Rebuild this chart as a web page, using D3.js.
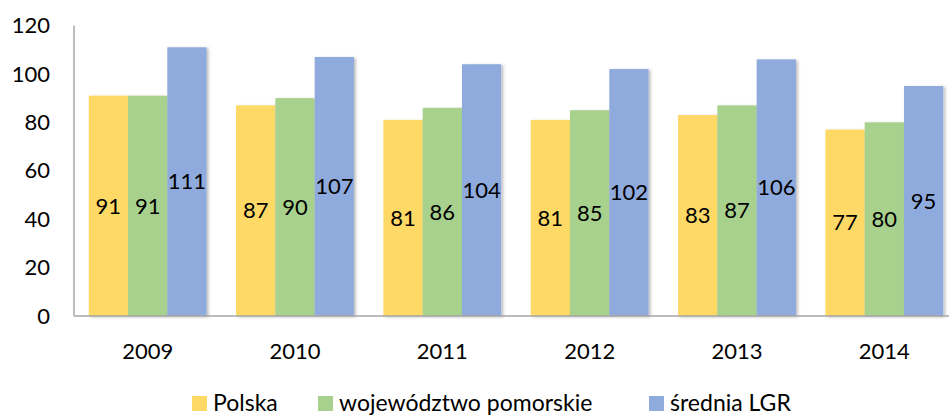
<!DOCTYPE html>
<html>
<head>
<meta charset="utf-8">
<script src="https://cdn.jsdelivr.net/npm/d3@7"></script>
<style>
  body { margin: 0; background: #fff; }
  svg { display: block; font-family: Lato, "Noto Sans", sans-serif; }
</style>
</head>
<body>
<svg id="chart" width="949" height="417"></svg>
<script>
// chart data
const years = ['2009', '2010', '2011', '2012', '2013', '2014'];
const seriesNames = ['Polska', 'województwo pomorskie', 'średnia LGR'];
const polska = [91, 87, 81, 81, 83, 77];
const pomorskie = [91, 90, 86, 85, 87, 80];
const sredniaLGR = [111, 107, 104, 102, 106, 95];
const yTicks = [0, 20, 40, 60, 80, 100, 120];
const colors = ['#FFD966', '#A9D18E', '#8FAADC'];

const seriesValues = [polska, pomorskie, sredniaLGR];

const svg = d3.select('#chart');
const margin = { left: 74, top: 25.5, bottom: 101 };
const plotRight = 958;
const height = 417;

const x = d3.scaleBand()
    .domain(years)
    .range([margin.left, plotRight])
    .paddingInner(0.2)
    .paddingOuter(0.1);

const xInner = d3.scaleBand()
    .domain(seriesNames)
    .range([0, x.bandwidth()]);

const y = d3.scaleLinear()
    .domain([0, 120])
    .range([height - margin.bottom, margin.top]);

// soft shadow on the bars
const defs = svg.append('defs');
const filter = defs.append('filter')
    .attr('id', 'shadow')
    .attr('x', '-20%').attr('y', '-10%')
    .attr('width', '150%').attr('height', '130%');
filter.append('feDropShadow')
    .attr('dx', 2).attr('dy', 1)
    .attr('stdDeviation', 1.5)
    .attr('flood-color', '#000')
    .attr('flood-opacity', 0.25);

// y axis tick labels
svg.append('g')
    .selectAll('text')
    .data(yTicks)
    .join('text')
    .attr('x', 50)
    .attr('y', d => y(d))
    .attr('dy', '0.35em')
    .attr('text-anchor', 'end')
    .attr('font-size', 22)
    .attr('fill', '#000')
    .text(d => d);

// bars
const groups = svg.append('g')
    .selectAll('g')
    .data(years)
    .join('g')
    .attr('transform', d => `translate(${x(d)},0)`);

const barData = (d, i) => seriesNames.map((s, k) => ({ s, k, v: seriesValues[k][i] }));

groups.selectAll('rect')
    .data(barData)
    .join('rect')
    .attr('x', d => xInner(d.s))
    .attr('y', d => y(d.v))
    .attr('width', xInner.bandwidth())
    .attr('height', d => y(0) - y(d.v))
    .attr('fill', d => colors[d.k])
    .attr('filter', 'url(#shadow)');

groups.selectAll('text')
    .data(barData)
    .join('text')
    .attr('x', d => xInner(d.s) + xInner.bandwidth() / 2)
    .attr('y', d => (y(d.v) + y(0)) / 2)
    .attr('dy', '0.35em')
    .attr('text-anchor', 'middle')
    .attr('font-size', 22)
    .attr('fill', '#000')
    .text(d => d.v);

// axis lines
svg.append('line')
    .attr('x1', margin.left).attr('x2', margin.left)
    .attr('y1', y(120)).attr('y2', y(0))
    .attr('stroke', '#A6A6A6').attr('stroke-width', 1.5);
svg.append('line')
    .attr('x1', margin.left).attr('x2', plotRight)
    .attr('y1', y(0)).attr('y2', y(0))
    .attr('stroke', '#A6A6A6').attr('stroke-width', 1.5);

// x labels
svg.append('g')
    .selectAll('text')
    .data(years)
    .join('text')
    .attr('x', d => x(d) + x.bandwidth() / 2)
    .attr('y', 351)
    .attr('dy', '0.35em')
    .attr('text-anchor', 'middle')
    .attr('font-size', 22)
    .attr('fill', '#000')
    .text(d => d);

// legend (kept just inside the bottom edge)
const legendX = [192, 318, 649];
const legend = svg.append('g')
    .selectAll('g')
    .data(seriesNames)
    .join('g')
    .attr('transform', (d, i) => `translate(${legendX[i]},396)`);
legend.append('rect')
    .attr('width', 15).attr('height', 15)
    .attr('fill', (d, i) => colors[i]);
legend.append('text')
    .attr('x', 21)
    .attr('y', 15)
    .attr('font-size', 23)
    .attr('fill', '#000')
    .text(d => d);
</script>
</body>
</html>
